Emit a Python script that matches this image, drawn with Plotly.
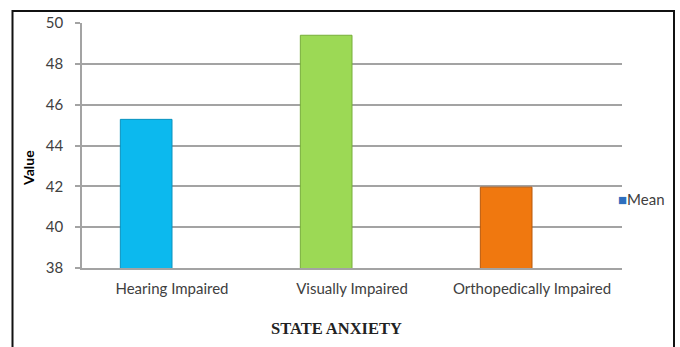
import plotly.graph_objects as go

# Mean state-anxiety score per group
categories = ["Hearing Impaired", "Visually Impaired", "Orthopedically Impaired"]
mean_values = [45.28, 49.40, 41.96]
bar_colors = ["#0CB9EE", "#9CD955", "#F0780F"]
edge_colors = ["#0A92BE", "#77AE3A", "#B8580A"]
y_ticks = [38, 40, 42, 44, 46, 48, 50]

W, H = 680, 347
L, R, T, B = 82, 58, 22.5, 78.5
pw, ph = W - L - R, H - T - B

def px_x(px):
    return (px - L) / pw

def px_y(py):
    return (H - B - py) / ph

fig = go.Figure()
fig.add_trace(go.Bar(
    x=categories,
    y=mean_values,
    base=0,
    name="Mean",
    width=0.287,
    offset=-0.287,
    marker=dict(color=bar_colors, line=dict(color=edge_colors, width=1)),
    showlegend=False,
))

grid_col = "#a3a3a3"
fig.update_layout(
    width=W, height=H,
    margin=dict(l=L, r=R, t=T, b=B),
    paper_bgcolor="white",
    plot_bgcolor="white",
    font=dict(family="Lato, Calibri, sans-serif", color="#404040", size=14),
    bargap=0.43,
    xaxis=dict(
        showgrid=False,
        showline=True, linecolor=grid_col, linewidth=1.5,
        ticks="",
        tickfont=dict(size=15, color="#404040"),
        ticklabelstandoff=6,
        fixedrange=True,
    ),
    yaxis=dict(
        range=[38, 50],
        tickvals=y_ticks,
        showgrid=True, gridcolor=grid_col, gridwidth=1.5,
        showline=True, linecolor=grid_col, linewidth=1.5,
        ticks="outside", ticklen=5, tickcolor=grid_col, tickwidth=1.5,
        tickfont=dict(size=15, color="#404040"),
        ticklabelstandoff=9,
        zeroline=False,
        fixedrange=True,
    ),
    annotations=[
        dict(
            text="<b>Value</b>",
            xref="paper", yref="paper",
            x=px_x(29), y=px_y(168),
            xanchor="center", yanchor="middle",
            textangle=-90,
            showarrow=False,
            font=dict(size=14, color="#000000"),
        ),
        dict(
            text="STATE ANXIETY",
            xref="paper", yref="paper",
            x=px_x(336), y=px_y(329),
            xanchor="center", yanchor="middle",
            showarrow=False,
            font=dict(family="Liberation Serif, Times New Roman, serif", size=16.5,
                      color="#222222", weight="bold"),
        ),
        dict(
            text='<span style="color:#2E6FBE">■</span>Mean',
            xref="paper", yref="paper",
            x=px_x(616), y=px_y(199),
            xanchor="left", yanchor="middle",
            showarrow=False,
            font=dict(size=15, color="#404040"),
        ),
    ],
    shapes=[
        dict(
            type="rect", xref="paper", yref="paper",
            x0=px_x(12.5), x1=px_x(674), y0=px_y(360), y1=px_y(10.5),
            line=dict(color="#111111", width=2),
            fillcolor="rgba(0,0,0,0)",
            layer="below",
        ),
    ],
)

fig.write_html("out.html")
